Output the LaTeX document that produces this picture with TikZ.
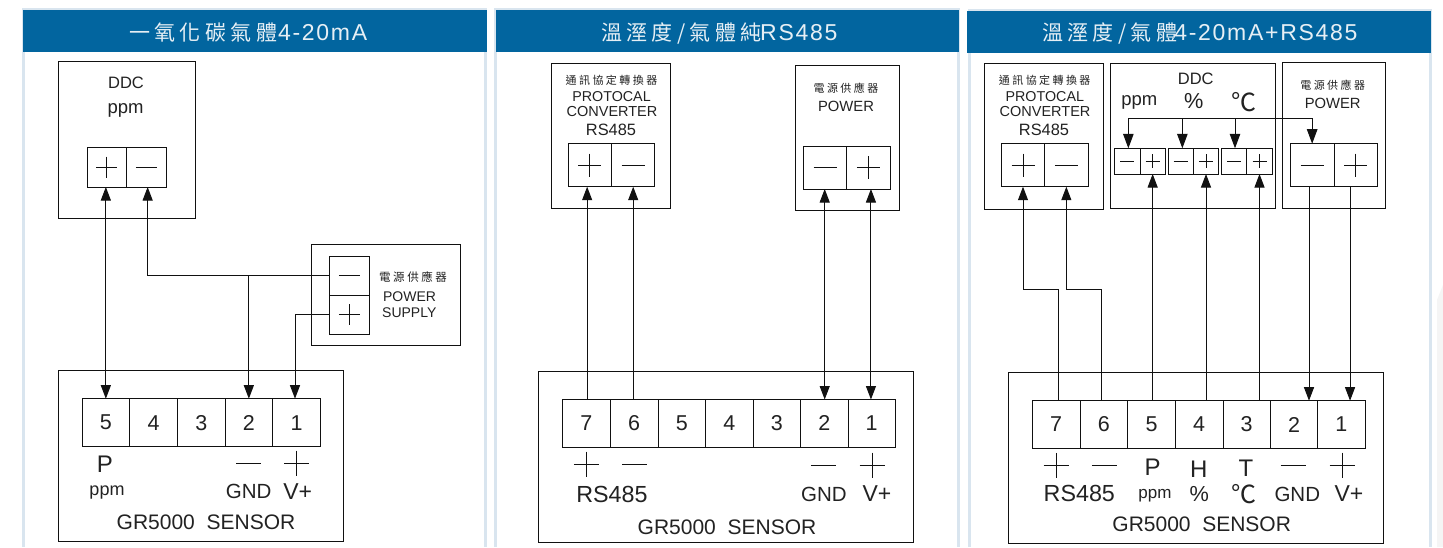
\documentclass[tikz,border=0pt]{standalone}
\usepackage{fontspec}
\usetikzlibrary{arrows.meta,calc}
\setmainfont{Liberation Sans}
\newfontfamily\cjk{Noto Sans CJK TC}
\newfontfamily\cjksm[LetterSpace=22]{Noto Sans CJK TC}
\newfontfamily\tcjk[LetterSpace=21]{Noto Sans CJK TC}
\newfontfamily\tlat[LetterSpace=7.5]{Liberation Sans}
\newcommand\fs[1]{\fontsize{#1}{#1}\selectfont}
\definecolor{hdr}{HTML}{02659F}
\definecolor{edge}{HTML}{D9E5EF}
\definecolor{ink}{HTML}{222222}
\definecolor{lin}{HTML}{111111}
\definecolor{hdrtext}{HTML}{E6EFF5}
\newcommand\bx[6][]{\node[boxshape,#1,minimum width={(#5-#3)*1pt},minimum height={(#6-#4)*1pt}] (#2) at ({(#3+#5)/2},{(#4+#6)/2}) {};}
\newcommand\cl[7][]{\node[boxshape,font=\fs{21.5},#1,minimum width={(#5-#3)*1pt},minimum height={(#6-#4)*1pt}] (#2) at ({(#3+#5)/2},{(#4+#6)/2}) {#7};}
\tikzset{
  boxshape/.style={draw=lin,line width=1pt,rectangle,inner sep=0pt,outer sep=0pt,text=ink},
  lab/.style={inner sep=0pt,outer sep=0pt,text=ink},
  wire/.style={draw=lin,line width=1pt},
  tipA/.style={wire,-{Triangle[length=13.5pt,width=10pt]}},
  tipB/.style={wire,{Triangle[length=13.5pt,width=10pt]}-},
  tipAB/.style={wire,{Triangle[length=13.5pt,width=10pt]}-{Triangle[length=13.5pt,width=10pt]}},
  tipBig/.style={wire,-{Triangle[length=14.5pt,width=10.5pt]}},
  tipBigAB/.style={wire,{Triangle[length=14.5pt,width=10.5pt]}-{Triangle[length=14.5pt,width=10.5pt]}},
  plusmark/.style={path picture={\draw[lin,line width=1pt]
     ($(path picture bounding box.center)+(-#1,0)$) -- ($(path picture bounding box.center)+(#1,0)$)
     ($(path picture bounding box.center)+(0,-#1)$) -- ($(path picture bounding box.center)+(0,#1)$);}},
  minusmark/.style={path picture={\draw[lin,line width=1pt]
     ($(path picture bounding box.center)+(-#1,0)$) -- ($(path picture bounding box.center)+(#1,0)$);}},
  sym/.style={inner sep=0pt,outer sep=0pt,minimum size=27pt},
  titletext/.style={anchor=base west,inner sep=0pt,outer sep=0pt,text=hdrtext},
}
\begin{document}
\begin{tikzpicture}[x=1pt,y=-1pt]
\useasboundingbox (0,0) rectangle (1443,547);
\fill[white] (0,0) rectangle (1443,547);
\fill[black!4] (1443,285) -- (1437,300) -- (1437,547) -- (1443,547) -- cycle;
% panels
\foreach \xa/\xb/\ya in {23.3/485.3/9, 495.7/958/9, 969/1430.7/10}{
  \draw[edge,line width=3pt] (\xa,547) -- (\xa,\ya) -- (\xb,\ya) -- (\xb,547);
}
\fill[hdr] (23.3,10) rectangle (486.7,52);
\fill[hdr] (495.7,10) rectangle (959,52);
\fill[hdr] (967.3,11) rectangle (1431,53);
\node[titletext] (t1) at (129,40) {\fs{21}{\tcjk 一氧化碳氣體}\kern1pt\fs{23}{\tlat 4-20mA}};
\node[titletext] (t2) at (601,40) {\fs{21}{\tcjk 溫溼度/氣體純}\kern-1.5pt\fs{23}{\tlat RS485}};
\node[titletext] (t3) at (1042,40.5) {\fs{21}{\tcjk 溫溼度/氣體}\kern-3pt\fs{23}{\tlat 4-20mA+RS485}};

% ---------- panel 1 ----------
\bx{addc}{58.5}{61.5}{195.5}{218.5}
\node[lab,font=\fs{16.5}] (addct) at (126,83) {DDC};
\node[lab,font=\fs{18.5}] (addcp) at (125.5,110) {ppm};
\bx[plusmark=10.5]{ap}{87}{147}{126.6}{187}
\bx[minusmark=10.5]{am}{126.6}{147}{166.3}{187}
\bx{apw}{311.5}{244}{460}{345.5}
\bx[minusmark=10.5]{apm}{329.5}{256}{369}{295}
\bx[plusmark=10.5]{app}{329.5}{295}{369}{334}
\node[lab,font=\fs{11.5}\cjksm] (apwc) at (413,277) {電源供應器};
\node[lab,font=\fs{14}] (apwa) at (409.5,297) {POWER};
\node[lab,font=\fs{14}] (apwb) at (409.3,313) {SUPPLY};
\bx{asen}{58}{370.5}{343.5}{541.5}
\cl{a5}{82}{398.7}{129.7}{446.5}{5}
\cl{a4}{129.7}{398.7}{177.5}{446.5}{4}
\cl{a3}{177.5}{398.7}{225}{446.5}{3}
\cl{a2}{225}{398.7}{272.7}{446.5}{2}
\cl{a1}{272.7}{398.7}{320.5}{446.5}{1}
\node[lab,font=\fs{24}] (ap5) at (105,464) {P};
\node[lab,font=\fs{18}] (appm) at (107,492.5) {ppm};
\node[sym,minusmark=12.5] (agm) at (248.8,463) {};
\node[sym,plusmark=12.5] (agp) at (296.7,463) {};
\node[lab,font=\fs{20.5}] (agnd) at (248.7,491.5) {GND};
\node[lab,font=\fs{23}] (avp) at (297.7,491.5) {V+};
\node[lab,font=\fs{21}] (asn) at (206,522) {GR5000\ \ SENSOR};
\draw[tipAB] (a5.north) -- (a5.north |- ap.south);
\draw[tipB] ([xshift=1.2pt]am.south) |- (apm.west);
\draw[tipA] (a2.north |- apm.west) -- (a2.north);
\draw[tipA] (app.west) -| ([xshift=-1.6pt]a1.north);

% ---------- panel 2 ----------
\bx{bcv}{551}{63}{670.3}{208.7}
\node[lab,font=\fs{11}\cjksm] (bcva) at (611.5,80) {通訊協定轉換器};
\node[lab,font=\fs{14.3}] (bcvb) at (611.5,97) {PROTOCAL};
\node[lab,font=\fs{14.5}] (bcvc) at (612,112) {CONVERTER};
\node[lab,font=\fs{16.4}] (bcvd) at (611,130) {RS485};
\bx[plusmark=11.5]{bcp}{568}{143.5}{611.7}{186.7}
\bx[minusmark=11.5]{bcm}{611.7}{143.5}{654.7}{186.7}
\bx{bpw}{795.3}{65}{899}{210.7}
\node[lab,font=\fs{11}\cjksm] (bpwa) at (846,88) {電源供應器};
\node[lab,font=\fs{14.8}] (bpwb) at (846,106) {POWER};
\bx[minusmark=11.5]{bpm}{803.5}{146}{846.7}{189}
\bx[plusmark=11.5]{bpp}{846.7}{146}{890}{189}
\bx{bsen}{538.5}{371}{913}{542}
\cl{b7}{562.5}{399.5}{610.3}{447}{7}
\cl{b6}{610.3}{399.5}{658}{447}{6}
\cl{b5}{658}{399.5}{705.5}{447}{5}
\cl{b4}{705.5}{399.5}{753}{447}{4}
\cl{b3}{753}{399.5}{800.7}{447}{3}
\cl{b2}{800.7}{399.5}{848}{447}{2}
\cl{b1}{848}{399.5}{895}{447}{1}
\node[sym,plusmark=12.5] (bgp7) at (586.3,464) {};
\node[sym,minusmark=12.5] (bgm6) at (634.5,464) {};
\node[sym,minusmark=12.5] (bgm2) at (823.3,465) {};
\node[sym,plusmark=12.5] (bgp1) at (872,465) {};
\node[lab,font=\fs{23.3}] (brs) at (612,494) {RS485};
\node[lab,font=\fs{20.5}] (bgnd) at (824,494) {GND};
\node[lab,font=\fs{23}] (bvp) at (877,494) {V+};
\node[lab,font=\fs{21}] (bsn) at (727,527) {GR5000\ \ SENSOR};
\draw[tipB] ([xshift=-2.7pt]bcp.south) -- ([xshift=-2.7pt]bcp.south |- b7.north);
\draw[tipB] (bcm.south) -- (bcm.south |- b6.north);
\draw[tipAB] ([xshift=-.4pt]bpm.south) -- ([xshift=-.4pt]bpm.south |- b2.north);
\draw[tipAB] ([xshift=2.6pt]bpp.south) -- ([xshift=2.6pt]bpp.south |- b1.north);

% ---------- panel 3 ----------
\bx{ccv}{984.3}{63.3}{1103.3}{209}
\node[lab,font=\fs{11}\cjksm] (ccva) at (1044.7,80) {通訊協定轉換器};
\node[lab,font=\fs{14.3}] (ccvb) at (1044.8,97) {PROTOCAL};
\node[lab,font=\fs{14.5}] (ccvc) at (1045,112) {CONVERTER};
\node[lab,font=\fs{16.4}] (ccvd) at (1044,130) {RS485};
\bx[plusmark=11.5]{ccp}{1001.3}{143.7}{1044.7}{186.7}
\bx[minusmark=11.5]{ccm}{1044.7}{143.7}{1088}{186.7}
\bx{cddc}{1110}{63}{1275.7}{208.7}
\node[lab,font=\fs{16.5}] (cddct) at (1195.7,79) {DDC};
\node[lab,font=\fs{18.5}] (cppm) at (1139.3,102) {ppm};
\node[lab,font=\fs{21.7}] (cpct) at (1193.7,101) {\%};
\node[lab,font=\fs{25}\cjk] (cdeg) at (1244,102) {℃};
\bx[minusmark=7]{c1m}{1114.3}{148.3}{1140}{174}
\bx[plusmark=7]{c1p}{1140}{148.3}{1165.3}{174}
\bx[minusmark=7]{c2m}{1168}{148.3}{1193.3}{174}
\bx[plusmark=7]{c2p}{1193.3}{148.3}{1218.7}{174}
\bx[minusmark=7]{c3m}{1221.3}{148.3}{1246.7}{174}
\bx[plusmark=7]{c3p}{1246.7}{148.3}{1272.3}{174}
\bx{cpw}{1282.3}{62.7}{1385.7}{208}
\node[lab,font=\fs{11}\cjksm] (cpwa) at (1332.7,85) {電源供應器};
\node[lab,font=\fs{14.8}] (cpwb) at (1332.7,103) {POWER};
\bx[minusmark=11.5]{cpm}{1290.3}{143.7}{1334}{186.3}
\bx[plusmark=11.5]{cpp}{1334}{143.7}{1377.3}{186.3}
\bx{csen}{1008.7}{372}{1383.3}{543.7}
\cl{c7}{1032.3}{400.7}{1080}{448.3}{7}
\cl{c6}{1080}{400.7}{1127.7}{448.3}{6}
\cl{c5}{1127.7}{400.7}{1175.3}{448.3}{5}
\cl{c4}{1175.3}{400.7}{1223}{448.3}{4}
\cl{c3}{1223}{400.7}{1270.3}{448.3}{3}
\cl{c2}{1270.3}{400.7}{1317.7}{448.3}{2}
\cl{c1}{1317.7}{400.7}{1365}{448.3}{1}
\node[sym,plusmark=12.5] (cgp7) at (1056,465.3) {};
\node[sym,minusmark=12.5] (cgm6) at (1104.3,465) {};
\node[lab,font=\fs{24}] (cP) at (1152.7,467.7) {P};
\node[lab,font=\fs{24}] (cH) at (1198.7,469) {H};
\node[lab,font=\fs{24}] (cT) at (1246,468.5) {T};
\node[sym,minusmark=12.5] (cgm2) at (1293,465) {};
\node[sym,plusmark=12.5] (cgp1) at (1342,465) {};
\node[lab,font=\fs{23.3}] (crs) at (1079.3,493.7) {RS485};
\node[lab,font=\fs{17}] (cppm2) at (1155,496) {ppm};
\node[lab,font=\fs{21.7}] (cpct2) at (1199.3,494) {\%};
\node[lab,font=\fs{25}\cjk] (cdeg2) at (1244,494) {℃};
\node[lab,font=\fs{20.5}] (cgnd) at (1297.3,494) {GND};
\node[lab,font=\fs{23}] (cvp) at (1349,494) {V+};
\node[lab,font=\fs{21}] (csn) at (1201.7,524.3) {GR5000\ \ SENSOR};
\coordinate (jog) at (0,289.7);
\coordinate (busy) at (0,118);
\draw[tipB] (ccp.south) -- (ccp.south |- jog) -- ([xshift=1.9pt]c7.north |- jog) -- ([xshift=1.9pt]c7.north);
\draw[tipB] (ccm.south) -- (ccm.south |- jog) -- ([xshift=-2.5pt]c6.north |- jog) -- ([xshift=-2.5pt]c6.north);
\draw[tipB] (c1p.south) -- (c1p.south |- c5.north);
\draw[tipB] (c2p.south) -- (c2p.south |- c4.north);
\draw[tipB] (c3p.south) -- (c3p.south |- c3.north);
\draw[tipA] ([xshift=-3.15pt]cpm.south) -- ([xshift=-3.15pt]cpm.south |- c2.north);
\draw[tipA] ([xshift=-5.6pt]cpp.south) -- ([xshift=-5.6pt]cpp.south |- c1.north);
\draw[tipBigAB] ([xshift=1.2pt]c1m.north) |- (cpm.north |- busy) -- (cpm.north);
\draw[tipBig] ([xshift=1.7pt]c2m.north |- busy) -- ([xshift=1.7pt]c2m.north);
\draw[tipBig] ([xshift=1pt]c3m.north |- busy) -- ([xshift=1pt]c3m.north);
\end{tikzpicture}
\end{document}
